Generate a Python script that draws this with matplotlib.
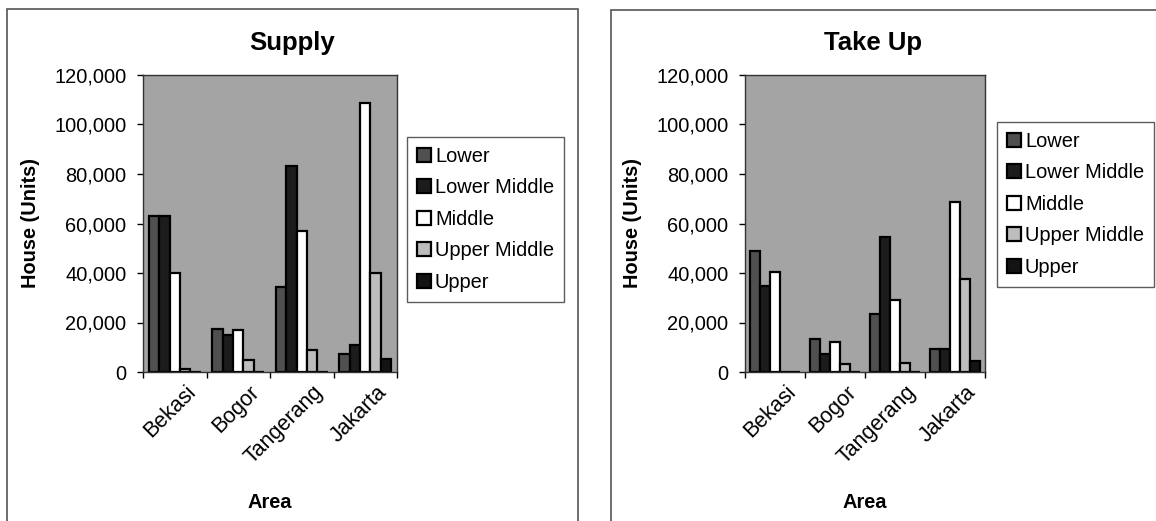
import numpy as np
import matplotlib
matplotlib.use('Agg')
import matplotlib.pyplot as plt
import matplotlib.transforms as mtransforms
from matplotlib.patches import Rectangle
from matplotlib.ticker import FuncFormatter

# Dados de oferta e absorção por área
areas = ['Bekasi', 'Bogor', 'Tangerang', 'Jakarta']
segmentos = ['Lower', 'Lower Middle', 'Middle', 'Upper Middle', 'Upper']

supply_lower = [63000, 17500, 34500, 7300]
supply_lower_middle = [63000, 15000, 83200, 10900]
supply_middle = [40000, 17000, 57000, 108500]
supply_upper_middle = [1200, 4800, 8900, 40000]
supply_upper = [0, 0, 0, 5200]

takeup_lower = [49000, 13200, 23400, 9200]
takeup_lower_middle = [34700, 7100, 54700, 9200]
takeup_middle = [40300, 12000, 29000, 68800]
takeup_upper_middle = [0, 3200, 3500, 37600]
takeup_upper = [0, 0, 0, 4600]

cores = ['#505050', '#1c1c1c', '#ffffff', '#bdbdbd', '#141414']

plt.rcParams['font.family'] = ['Liberation Sans', 'DejaVu Sans']

W, H = 1156, 521
fig = plt.figure(figsize=(W / 100, H / 100), dpi=100)


def px(x, y, w, h):
    # converte pixels (origem no topo) para coordenadas da figura
    return [x / W, 1 - (y + h) / H, w / W, h / H]


def grafico(rect, titulo, series, titulo_x, ylabel_x, legenda_pos):
    ax = fig.add_axes(rect)
    ax.set_facecolor('#a4a4a4')
    n = len(series)
    largura = 0.164
    x = np.arange(len(areas))
    for i, (valores, cor, nome) in enumerate(zip(series, cores, segmentos)):
        pos = x + (i - (n - 1) / 2) * largura
        ax.bar(pos, valores, largura, color=cor, edgecolor='black',
               linewidth=1.6, label=nome)
    ax.set_xlim(-0.5, len(areas) - 0.5)
    ax.set_ylim(0, 120000)
    ax.set_yticks(np.arange(0, 120001, 20000))
    ax.yaxis.set_major_formatter(FuncFormatter(lambda v, p: f'{int(v):,}'))

    # rótulos das áreas inclinados, escritos à mão para poder deslocá-los
    ax.set_xticks(np.arange(-0.5, len(areas)))
    ax.set_xticklabels([])
    ax.tick_params(axis='x', length=4, width=1, direction='out')
    base = mtransforms.blended_transform_factory(ax.transData, ax.transAxes)
    desloc = mtransforms.ScaledTranslation(18 / 100, -17 / 100,
                                           fig.dpi_scale_trans)
    for xi, nome in zip(x, areas):
        ax.text(xi, 0, nome, transform=base + desloc, rotation=45,
                rotation_mode='anchor', ha='right', va='center',
                fontsize=15.5)

    ax.tick_params(axis='y', length=4, width=1, pad=8, labelsize=14.4)
    for s in ax.spines.values():
        s.set_linewidth(1)
        s.set_color('#333333')

    bb = ax.get_position()
    cx = bb.x0 + bb.width / 2
    fig.text(titulo_x / W, 1 - 43 / H, titulo, ha='center', va='center',
             fontsize=18.5, fontweight='bold')
    fig.text(ylabel_x / W, bb.y0 + bb.height / 2, 'House (Units)', rotation=90,
             ha='center', va='center', fontsize=14.4, fontweight='bold')
    fig.text(cx, 1 - 503 / H, 'Area', ha='center', va='center',
             fontsize=14.4, fontweight='bold')

    leg = ax.legend(loc='upper left', bbox_to_anchor=legenda_pos,
                    bbox_transform=fig.transFigure, fontsize=14.4,
                    frameon=True, fancybox=False, handlelength=0.7,
                    handleheight=0.7, handletextpad=0.2, labelspacing=0.62,
                    borderpad=0.5, borderaxespad=0)
    leg.get_frame().set_edgecolor('#333333')
    leg.get_frame().set_linewidth(1)
    return ax


# molduras dos dois painéis
fig.add_artist(Rectangle((7 / W, -0.1), 571 / W, 1.1 - 9 / H, fill=False,
                         edgecolor='#555555', linewidth=1.2,
                         transform=fig.transFigure))
fig.add_artist(Rectangle((611 / W, -0.1), 600 / W, 1.1 - 10 / H, fill=False,
                         edgecolor='#555555', linewidth=1.2,
                         transform=fig.transFigure))

grafico(px(143, 75, 254, 297), 'Supply',
        [supply_lower, supply_lower_middle, supply_middle,
         supply_upper_middle, supply_upper],
        292, 30, (407 / W, 1 - 137 / H))

grafico(px(745, 75, 240, 297), 'Take Up',
        [takeup_lower, takeup_lower_middle, takeup_middle,
         takeup_upper_middle, takeup_upper],
        873, 632, (997 / W, 1 - 122 / H))

fig.savefig('out.png', dpi=100)
